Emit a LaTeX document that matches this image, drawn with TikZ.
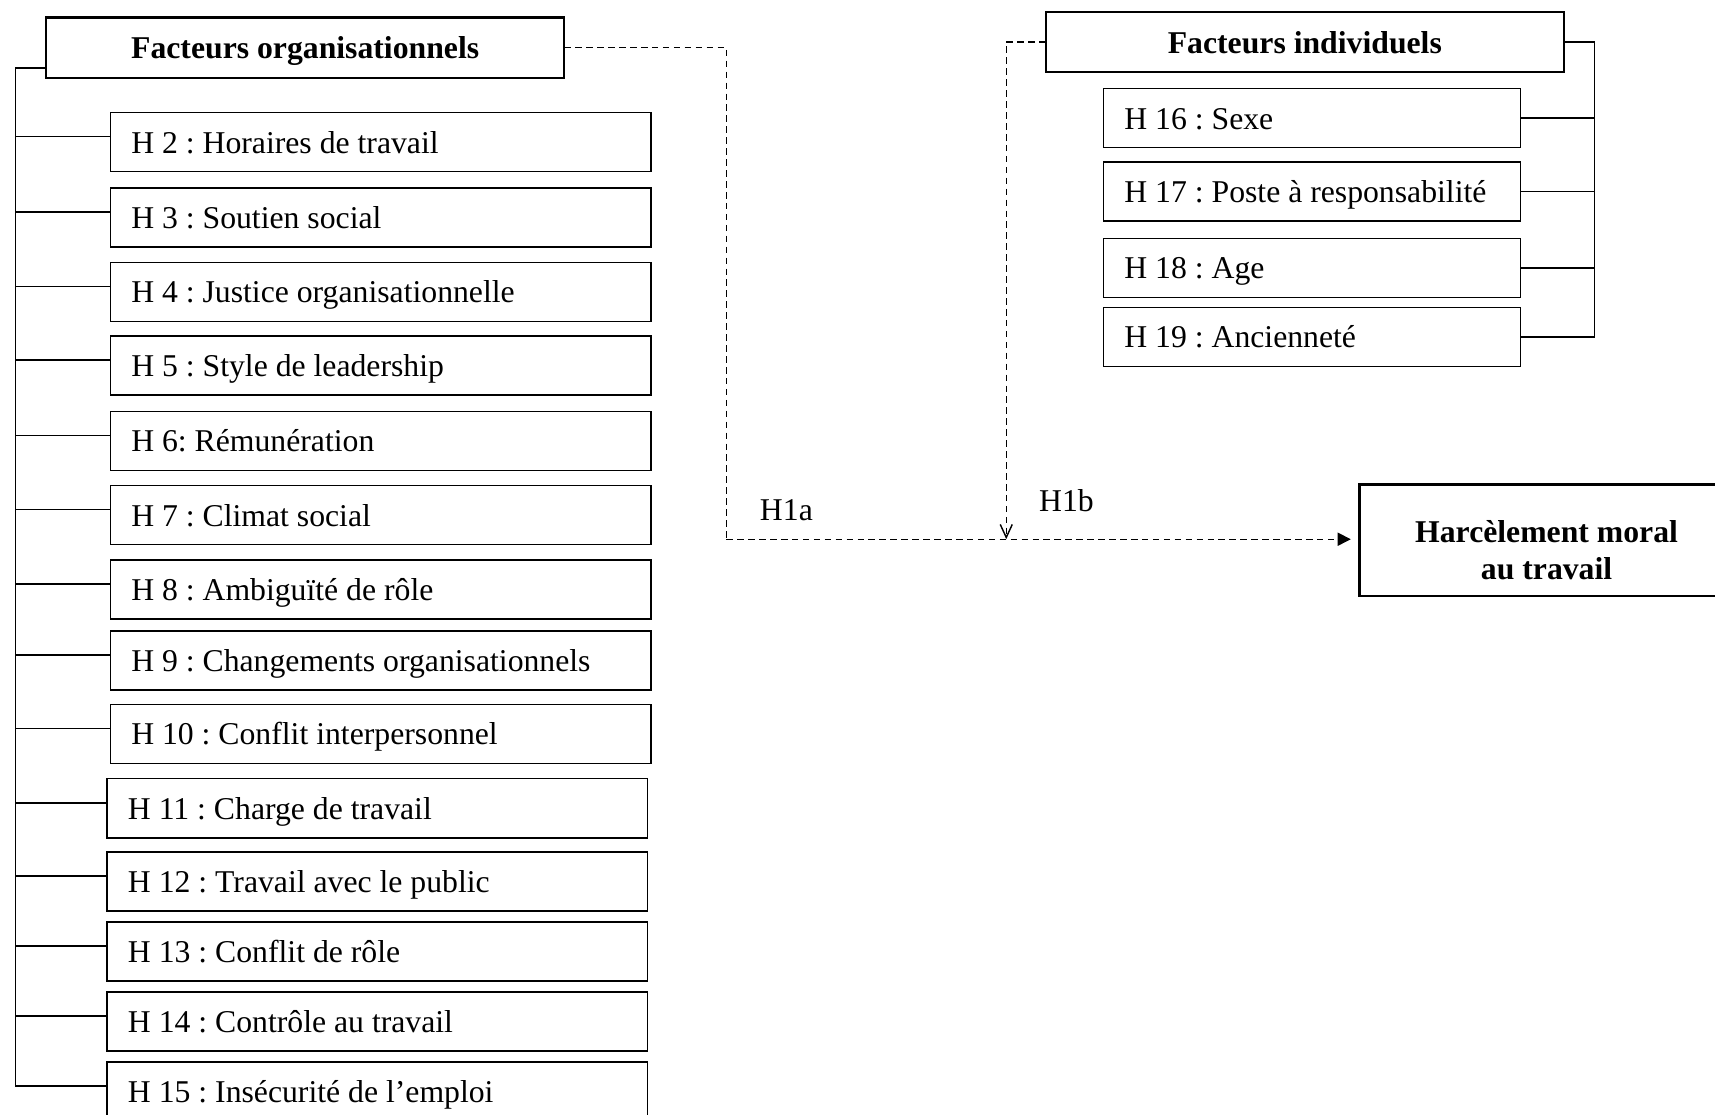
\documentclass[tikz,border=0pt]{standalone}
\usepackage{fontspec}
\setmainfont{Liberation Serif}
\usetikzlibrary{arrows.meta}
\frenchspacing
\newcommand{\fsz}{\fontsize{14.5}{16.5}\selectfont\frenchspacing\hyphenpenalty=10000 }
\begin{document}
\begin{tikzpicture}[x=0.5pt,y=-0.5pt,
  titlebox/.style={draw, line width=1pt, outer sep=0pt, anchor=north west, minimum width=237pt, minimum height=27.5pt, font=\fsz\bfseries, align=center, text height=10pt, text depth=0pt},
  itembox/.style={draw, line width=0.65pt, outer sep=0pt, anchor=north west, minimum height=27pt, inner xsep=9.5pt, align=flush left, font=\fsz, text height=10pt, text depth=0pt},
  leftitem/.style={itembox, text width=228pt},
  rightitem/.style={itembox, text width=171.5pt},
  spine/.style={line width=0.65pt},
  dsh/.style={line width=0.65pt, dash pattern=on 3pt off 2pt},
  lab/.style={font=\fsz}
]
\useasboundingbox (0,0) rectangle (1568,1019);

% left group
\node[titlebox] (org) at (42,16) {Facteurs organisationnels};
\node[leftitem] (h2)  at (101,103) {H 2 : Horaires de travail};
\node[leftitem] (h3)  at (101,172) {H 3 : Soutien social};
\node[leftitem] (h4)  at (101,240) {H 4 : Justice organisationnelle};
\node[leftitem] (h5)  at (101,307) {H 5 : Style de leadership};
\node[leftitem] (h6)  at (101,376) {H 6: Rémunération};
\node[leftitem] (h7)  at (101,444) {H 7 : Climat social};
\node[leftitem] (h8)  at (101,512) {H 8 : Ambiguïté de rôle};
\node[leftitem] (h9)  at (101,577) {H 9 : Changements organisationnels};
\node[leftitem] (h10) at (101,644) {H 10 : Conflit interpersonnel};
\node[leftitem] (h11) at (98,712) {H 11 : Charge de travail};
\node[leftitem] (h12) at (98,779) {H 12 : Travail avec le public};
\node[leftitem] (h13) at (98,843) {H 13 : Conflit de rôle};
\node[leftitem] (h14) at (98,907) {H 14 : Contrôle au travail};
\node[leftitem] (h15) at (98,971) {H 15 : Insécurité de l’emploi};

\coordinate (s0) at (14,62);
\coordinate (s1) at (14,993);
\draw[spine] (s0 -| org.west) -- (s0) -- (s1) -- (s1 -| h15.west);
\foreach \n in {h2,h3,h4,h5,h6,h7,h8,h9,h10,h11,h12,h13,h14}{
  \path ([yshift=2.5pt]\n.west) coordinate (tmp);
  \draw[spine] (s0 |- tmp) -- (tmp);
}

% right group
\node[titlebox] (ind) at (956,11) {Facteurs individuels};
\node[rightitem] (h16) at (1009,81)  {H 16 : Sexe};
\node[rightitem] (h17) at (1009,148) {H 17 : Poste à responsabilité};
\node[rightitem] (h18) at (1009,218) {H 18 : Age};
\node[rightitem] (h19) at (1009,281) {H 19 : Ancienneté};

\coordinate (r0) at (1458,38);
\draw[spine] (ind.east) -- (ind.east -| r0) -- (r0 |- h19.east) -- (h19.east);
\foreach \n in {h16,h17,h18}{
  \draw[spine] (r0 |- \n.east) -- (\n.east);
}

% outcome
\node[draw, line width=1pt, outer sep=0pt, anchor=north west, minimum width=171pt, minimum height=51pt] (harc) at (1243,443) {};
\node[font=\fsz\bfseries, align=center] (harct) at ([yshift=-4.5pt]harc.center) {Harcèlement moral\\au travail};

% dashed connectors
\coordinate (j1) at (664,493);
\coordinate (j2) at (920,493);
\draw[dsh] (org.east) -| (j1);
\draw[dsh, -{Triangle[length=6pt,width=6pt]}, shorten >=4pt] (j1) -- (j1 -| harc.west);
\draw[dsh, -{Straight Barb[length=6pt,width=5.5pt]}] (ind.west) -| (j2);

\node[lab] (h1a) at (719,466) {H1a};
\node[lab] (h1b) at (975,458) {H1b};
\end{tikzpicture}
\end{document}
